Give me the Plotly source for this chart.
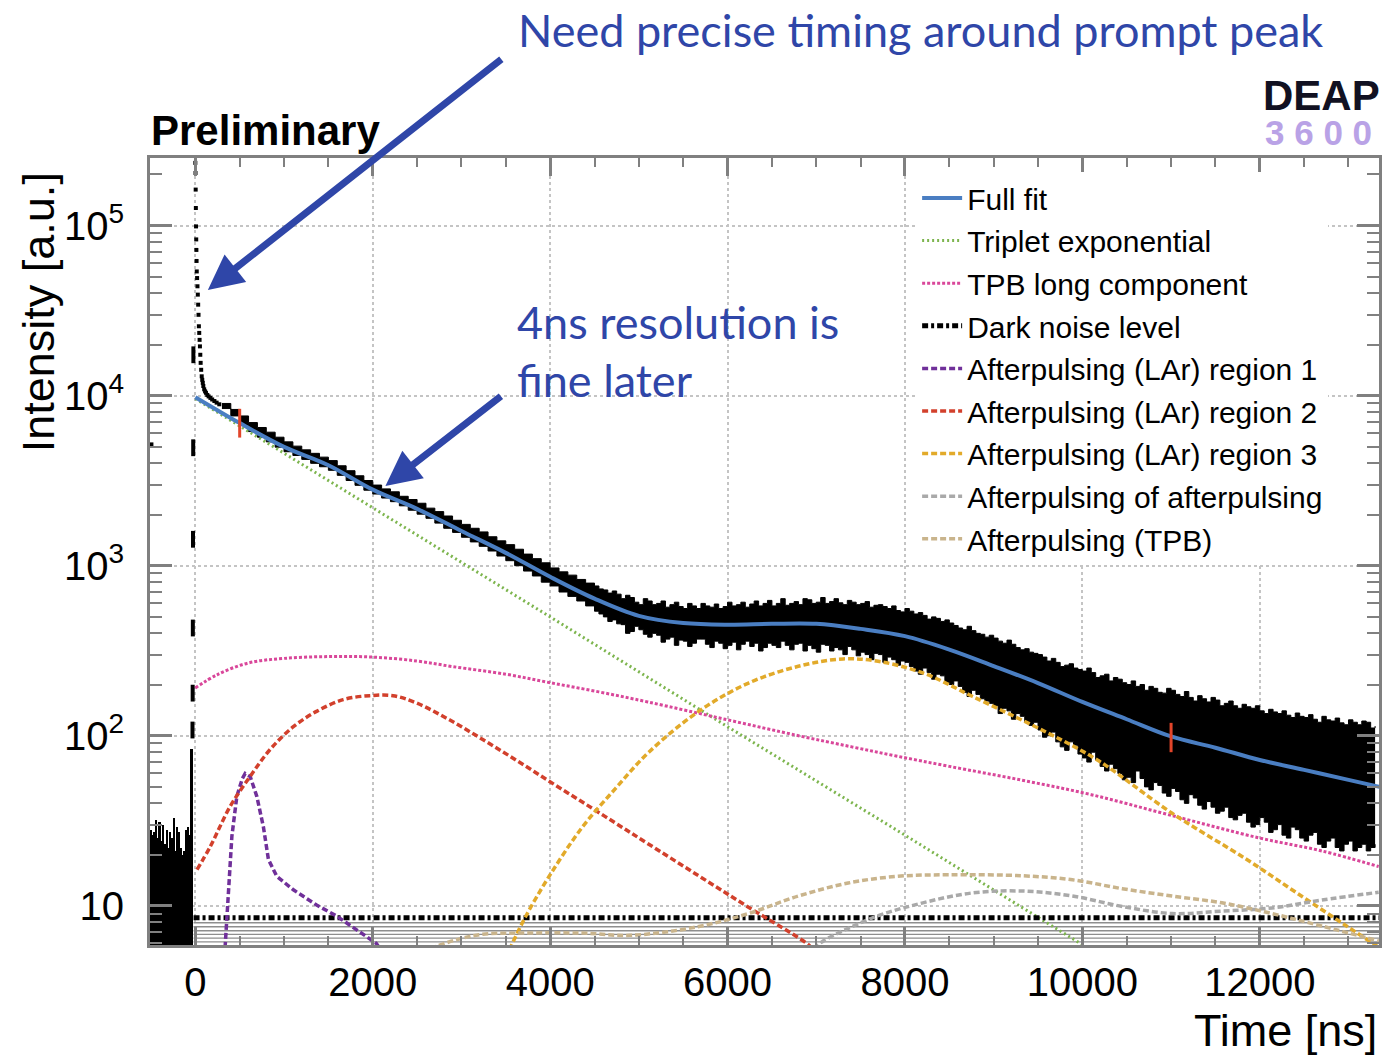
import plotly.graph_objects as go

# ---------------- data ----------------
# pre-trigger histogram (black bars left of t=0)
pre_t = [-500, -480, -460, -440, -420, -400, -380, -360, -340, -320, -300, -280,
         -260, -240, -220, -200, -180, -160, -140, -120, -100, -80, -60, -40]
pre_v = [28, 26, 27, 32, 25, 31, 24, 30, 23, 28, 22, 27,
         25, 33, 21, 29, 27, 22, 20, 21, 28, 29, 26, 83]

# rising edge bins (short vertical dashes)
rise_t = [-32, -30, -28, -26, -24, -22]
rise_v = [108, 178, 430, 1430, 4940, 17400]

# prompt peak points
prompt_t = [-495, 0, 2, 4, 6, 8, 10, 12, 14, 16, 20, 24, 28, 32, 36, 40, 44, 48, 52,
            56, 60, 66, 72, 78, 84, 90, 100, 110, 120, 135, 150, 170, 190, 215, 240, 270]
prompt_v = [5170, 234000, 204000, 163000, 127000, 99000, 83000, 72000, 62000, 53800,
            49200, 44000, 39300, 34300, 29900, 25600, 23400, 21300, 19500, 17400,
            15600, 14200, 13000, 12400, 11900, 11400, 10900, 10600, 10400, 10100,
            9900, 9700, 9500, 9300, 9100, 8900]

# data histogram envelope (upper / lower edge of the black band), bins every 100 ns from 300 ns
band_t = list(range(300, 13400, 100))
band_hi = [9000, 8300, 7600, 6950, 6500, 6100, 5700, 5350, 5050, 4800, 4580, 4350,
           4150, 3870, 3620, 3380, 3170,
           2980, 2830, 2720, 2560, 2450, 2330, 2180, 2080, 1960, 1850, 1750, 1660,
           1580, 1480, 1400, 1330, 1250, 1170, 1100, 1040, 970, 920, 880, 830, 790,
           760, 720, 710, 640, 650, 590, 620, 600, 570, 610, 560, 580,
           600, 570, 560, 610, 590, 570, 620, 600, 580, 640, 600, 590,
           630, 610, 600, 640, 590, 610, 600, 570, 590, 560, 545, 560,
           520, 510, 500, 470, 460, 430, 440, 400, 380, 375, 350, 345,
           320, 310, 300, 275, 270, 260, 250, 240, 235, 225, 210, 215,
           200, 195, 185, 190, 178, 185, 170, 168, 172, 158, 162, 155,
           150, 153, 145, 140, 143, 135, 132, 136, 128, 125, 130, 122,
           119, 124, 116, 120, 114]
band_lo = [8400, 7600, 6700, 6150, 5700, 5350, 4980, 4680, 4450, 4220, 4000, 3820,
           3640, 3400, 3170, 2970, 2780,
           2640, 2500, 2380, 2250, 2120, 2010, 1900, 1780, 1660, 1570, 1470, 1380,
           1300, 1220, 1140, 1070, 1000, 930, 870, 800, 760, 700, 660, 620, 580,
           540, 500, 480, 450, 410, 420, 380, 390, 370, 340, 360, 350,
           370, 330, 350, 340, 320, 360, 350, 330, 340, 360, 320, 350,
           340, 310, 340, 330, 300, 320, 310, 280, 300, 290, 260, 270,
           240, 250, 215, 225, 200, 195, 170, 175, 160, 150, 145, 125,
           130, 115, 108, 100, 92, 82, 88, 74, 80, 66, 68, 60,
           57, 62, 50, 53, 46, 49, 42, 45, 39, 41, 35, 38,
           32, 35, 29, 33, 27, 30, 25, 28, 24, 27, 22, 25,
           21, 24, 22, 21, 23]
# intermediate bins (every 100 ns from 4550 ns) in the noisy part
mid_t = list(range(4550, 13300, 100))
mid_hi = [730, 690, 680, 670, 610,
          640, 590, 620, 590, 575, 600, 560, 580, 595, 575,
          580, 610, 595, 580, 625, 600, 585, 615, 640, 600,
          650, 615, 605, 625, 590, 615, 585, 575, 580, 535,
          540, 530, 485, 490, 480, 445, 420, 415, 395, 390,
          360, 365, 330, 325, 305, 290, 285, 255, 265, 245,
          250, 220, 230, 220, 205, 210, 200, 195, 180, 190,
          175, 182, 160, 165, 168, 150, 160, 145, 148, 150,
          135, 138, 140, 128, 130, 133, 120, 124, 127, 116,
          120, 122, 111]
mid_lo = [520, 470, 455, 400, 440,
          395, 400, 355, 380, 365, 335, 370, 345, 360, 325,
          355, 345, 335, 315, 350, 330, 340, 345, 315, 325,
          345, 315, 320, 335, 295, 300, 305, 270, 280, 275,
          255, 230, 235, 230, 205, 210, 180, 185, 165, 155,
          135, 140, 135, 120, 120, 98, 105, 86, 92, 78,
          70, 72, 62, 64, 55, 53, 56, 48, 51, 44,
          47, 40, 43, 37, 38, 36, 33, 34, 31, 30,
          31, 28, 26, 29, 25, 26, 23, 24, 22, 23,
          21, 23, 22]

# hatched dark-noise band and dark noise level
hatch_t = [-20, 13400]
hatch_levels = [7.94, 7.52, 7.12, 6.78, 6.45, 6.13]
dark_t = [-20, 13400]
dark_v = [8.5, 8.5]

# full fit
fit_t = [0, 500, 1000, 1500, 2000, 2500, 3000, 3500, 4000, 4500, 5000, 5500, 6000, 6500,
         7000, 7500, 8000, 8500, 9000, 9500, 10000, 10500, 11000, 11500, 12000, 12500,
         13000, 13350]
fit_v = [9800, 6900, 5000, 3900, 2800, 2160, 1600, 1190, 860, 640, 507, 460, 450, 455,
         455, 425, 385, 321, 257, 204, 158, 125, 99, 85, 72, 63, 55, 50]

# fit range markers
range_t = [500, 11000]
range_lo = [5670, 80]
range_hi = [8370, 119]

# components
trip_t = [0, 2000, 4000, 6000, 8000, 10000, 10100]
trip_v = [9600, 2200, 500, 113, 26, 5.9, 5.5]

tpb_t = [0, 250, 600, 1000, 1500, 2000, 2500, 2900, 3500, 4000, 4550, 5100, 6000, 6800,
         7400, 7900, 8500, 9300, 10100, 11000, 12000, 12700, 13340]
tpb_v = [191, 229, 268, 285, 292, 290, 275, 255, 230, 205, 181, 158, 124, 100,
         86, 76, 66, 55, 45, 34, 25, 21, 17]

ap1_t = [329, 375, 412, 468, 530, 562, 618, 693, 768, 824, 918, 1105, 1367, 1592, 1816,
         2041, 2080]
ap1_v = [5.0, 13, 25.6, 44, 56, 60, 57.6, 44, 29, 18.7, 14.9, 12.4, 10.1, 8.7, 7.2, 6.0, 5.6]

ap2_t = [19, 169, 393, 618, 843, 1105, 1367, 1667, 1966, 2228, 2491, 2865, 3240, 3614,
         3989, 4363, 4738, 5112, 5674, 6236, 6910, 6960]
ap2_v = [16.3, 22.3, 38.4, 57.6, 83, 113, 139, 163, 172, 172, 156, 124, 95, 72, 54, 40.7,
         30.6, 23, 15, 9.8, 5.9, 5.5]

ap3_t = [3540, 3727, 3989, 4363, 4738, 5112, 5674, 6236, 6798, 7303, 7697, 8202, 8764,
         9607, 10169, 11011, 11854, 12416, 12978, 13340]
ap3_v = [5.5, 8.7, 14.9, 29, 49, 80, 139, 204, 256, 283, 274, 234, 170, 104, 72, 35,
         18.7, 11.9, 7.6, 5.7]

apap_t = [6990, 7022, 7640, 8202, 8764, 9326, 9888, 10449, 11011, 11573, 12135, 12697, 13340]
apap_v = [5.5, 5.9, 8.5, 10.4, 11.9, 12.2, 11.4, 9.9, 9.0, 9.3, 9.7, 10.8, 12.0]

aptpb_t = [2650, 2940, 3240, 3614, 4363, 4900, 5652, 6236, 6798, 7360, 7921, 8483, 9326,
           9888, 10449, 11011, 11573, 12135, 12697, 13340]
aptpb_v = [5.6, 6.3, 6.8, 6.9, 6.9, 6.7, 7.5, 9.0, 11.4, 13.6, 14.9, 15.2, 15.0, 14.2,
           12.6, 11.4, 10.4, 9.0, 7.6, 6.2]

legend_names = ["Full fit", "Triplet exponential", "TPB long component", "Dark noise level",
                "Afterpulsing (LAr) region 1", "Afterpulsing (LAr) region 2",
                "Afterpulsing (LAr) region 3", "Afterpulsing of afterpulsing",
                "Afterpulsing (TPB)"]

x_ticks = [0, 2000, 4000, 6000, 8000, 10000, 12000]
y_ticks = [10, 100, 1000, 10000, 100000]
y_ticktext = ["10", "10<sup>2</sup>", "10<sup>3</sup>", "10<sup>4</sup>", "10<sup>5</sup>"]

# ---------------- figure ----------------
W, H = 1385, 1056
ML, MR, MT, MB = 150, 3, 158, 111
PW, PH = W - ML - MR, H - MT - MB


def paper(px, py):
    return (px - ML) / PW, (H - MB - py) / PH


ROOTFONT = "Liberation Sans, Arial, sans-serif"
BLUE_TXT = "#2f46a8"

# merge the two bin sets of the data envelope
hi_pts = sorted(zip(band_t + mid_t, band_hi + mid_hi))
lo_pts = sorted(zip(band_t + mid_t, band_lo + mid_lo))
env_t = [p[0] for p in hi_pts]
env_hi = [p[1] for p in hi_pts]
env_lo = [p[1] for p in lo_pts]

fig = go.Figure()

# pre-trigger histogram
fig.add_trace(go.Bar(x=pre_t, y=pre_v, width=20, marker=dict(color="black", line_width=0),
                     showlegend=False, hoverinfo="skip"))

# hatched band
hx, hy = [], []
for lv in hatch_levels:
    hx += [hatch_t[0], hatch_t[1], None]
    hy += [lv, lv, None]
fig.add_trace(go.Scatter(x=hx, y=hy, mode="lines", line=dict(color="#8e8e8e", width=1.4),
                         showlegend=False, hoverinfo="skip"))

# data band
fig.add_trace(go.Scatter(x=env_t, y=env_hi, mode="lines", line=dict(color="black", width=1, shape="hv"),
                         showlegend=False, hoverinfo="skip"))
fig.add_trace(go.Scatter(x=env_t, y=env_lo, mode="lines", line=dict(color="black", width=1, shape="hv"),
                         fill="tonexty", fillcolor="black", showlegend=False, hoverinfo="skip"))
fig.add_trace(go.Scatter(x=prompt_t, y=prompt_v, mode="markers",
                         marker=dict(symbol="square", size=4, color="black"),
                         showlegend=False, hoverinfo="skip"))
fig.add_trace(go.Scatter(x=rise_t, y=rise_v, mode="markers",
                         marker=dict(symbol="line-ns", size=12, line=dict(width=4, color="black")),
                         showlegend=False, hoverinfo="skip"))

# components
comp = [
    (trip_t, trip_v, legend_names[1], dict(color="#7db54e", width=3, dash="2px,3px"), 2, "linear"),
    (tpb_t, tpb_v, legend_names[2], dict(color="#d9479a", width=3, dash="3px,2px"), 3, "spline"),
    (dark_t, dark_v, legend_names[3], dict(color="black", width=5, dash="6px,3px,3px,3px"), 4, "linear"),
    (ap1_t, ap1_v, legend_names[4], dict(color="#70309a", width=3.5, dash="6px,3px"), 5, "linear"),
    (ap2_t, ap2_v, legend_names[5], dict(color="#d2402c", width=3.5, dash="6px,3px"), 6, "spline"),
    (ap3_t, ap3_v, legend_names[6], dict(color="#e2aa2a", width=3.5, dash="6px,3px"), 7, "spline"),
    (apap_t, apap_v, legend_names[7], dict(color="#a9a9a9", width=3.5, dash="6px,3px"), 8, "spline"),
    (aptpb_t, aptpb_v, legend_names[8], dict(color="#c9b48c", width=3.5, dash="6px,3px"), 9, "spline"),
]
for xs, ys, nm, ln, rk, shp in comp:
    ln = dict(ln)
    ln["shape"] = shp
    fig.add_trace(go.Scatter(x=xs, y=ys, mode="lines", name=nm, line=ln,
                             legendgroup=nm, legendrank=rk, hoverinfo="skip"))

# full fit
fig.add_trace(go.Scatter(x=fit_t, y=fit_v, mode="lines", name=legend_names[0],
                         line=dict(color="#4a7ec2", width=4, shape="spline"),
                         legendgroup=legend_names[0], legendrank=1, hoverinfo="skip"))

# fit range markers
rx, ry = [], []
for t, lo, hi in zip(range_t, range_lo, range_hi):
    rx += [t, t, None]
    ry += [lo, hi, None]
fig.add_trace(go.Scatter(x=rx, y=ry, mode="lines", line=dict(color="#e2452a", width=3),
                         showlegend=False, hoverinfo="skip"))

AXC = "#808080"
fig.update_xaxes(range=[-511, 13344], showline=True, linecolor=AXC, linewidth=3, mirror="allticks",
                 ticks="inside", ticklen=18, tickwidth=2.5, tickcolor=AXC,
                 tickvals=x_ticks, ticktext=[str(v) for v in x_ticks],
                 minor=dict(ticks="inside", ticklen=9, tickwidth=2, tickcolor=AXC, dtick=500, showgrid=False),
                 showgrid=True, gridcolor="#c4c4c4", griddash="dot", gridwidth=1.5,
                 zeroline=False, tickfont=dict(family=ROOTFONT, size=40, color="black"),
                 ticklabelstandoff=0)
fig.update_yaxes(type="log", range=[0.769, 5.398], showline=True, linecolor=AXC, linewidth=3,
                 mirror="allticks", ticks="inside", ticklen=22, tickwidth=2.5, tickcolor=AXC,
                 tickvals=y_ticks, ticktext=y_ticktext,
                 minor=dict(ticks="inside", ticklen=12, tickwidth=2, tickcolor=AXC, dtick="D1", showgrid=False),
                 showgrid=True, gridcolor="#c4c4c4", griddash="dot", gridwidth=1.5,
                 zeroline=False, tickfont=dict(family=ROOTFONT, size=40, color="black"),
                 ticklabelstandoff=15)

ann = []
x, y = paper(266, 130)
ann.append(dict(x=x, y=y, text="<b>Preliminary</b>", font=dict(family=ROOTFONT, size=42, color="black")))
x, y = paper(1324, 95)
ann.append(dict(x=x, y=y, text="<b>DEAP</b>", font=dict(family=ROOTFONT, size=42, color="#111122")))
x, y = paper(1321, 132)
ann.append(dict(x=x, y=y, text="<b>3 6 0 0</b>", font=dict(family=ROOTFONT, size=35, color="#b9a2e6")))
x, y = paper(38, 312)
ann.append(dict(x=x, y=y, text="Intensity [a.u.]", textangle=-90,
                font=dict(family=ROOTFONT, size=45, color="black")))
x, y = paper(1288, 1030)
ann.append(dict(x=x, y=y, text="Time [ns]", font=dict(family=ROOTFONT, size=45, color="black")))
x, y = paper(922, 30)
ann.append(dict(x=x, y=y, text="Need precise timing around prompt peak",
                font=dict(family="Lato, sans-serif", size=45, color=BLUE_TXT)))
x, y = paper(516, 322)
ann.append(dict(x=x, y=y, xanchor="left", text="4ns resolution is",
                font=dict(family="Lato, sans-serif", size=45, color=BLUE_TXT)))
x, y = paper(516, 380)
ann.append(dict(x=x, y=y, xanchor="left", text="fine later",
                font=dict(family="Lato, sans-serif", size=45, color=BLUE_TXT)))
# arrows
x, y = paper(208, 290)
ann.append(dict(x=x, y=y, ax=295, ay=-232, text="", showarrow=True, arrowhead=2, arrowsize=1,
                arrowwidth=7, arrowcolor=BLUE_TXT))
x, y = paper(386, 486)
ann.append(dict(x=x, y=y, ax=117, ay=-91, text="", showarrow=True, arrowhead=2, arrowsize=1,
                arrowwidth=7, arrowcolor=BLUE_TXT))
for a in ann:
    a.setdefault("xref", "paper")
    a.setdefault("yref", "paper")
    a.setdefault("showarrow", False)
    a.setdefault("xanchor", "center")
    a.setdefault("yanchor", "middle")
fig.update_layout(annotations=ann)

lx, ly = paper(919, 172)
fig.update_layout(
    width=W, height=H, margin=dict(l=ML, r=MR, t=MT, b=MB),
    plot_bgcolor="white", paper_bgcolor="white", bargap=0,
    legend=dict(x=lx, y=ly, xanchor="left", yanchor="top", bgcolor="white",
                font=dict(family=ROOTFONT, size=30, color="black"),
                traceorder="grouped", tracegroupgap=0.6, itemwidth=40),
)

fig.write_html("out.html")
